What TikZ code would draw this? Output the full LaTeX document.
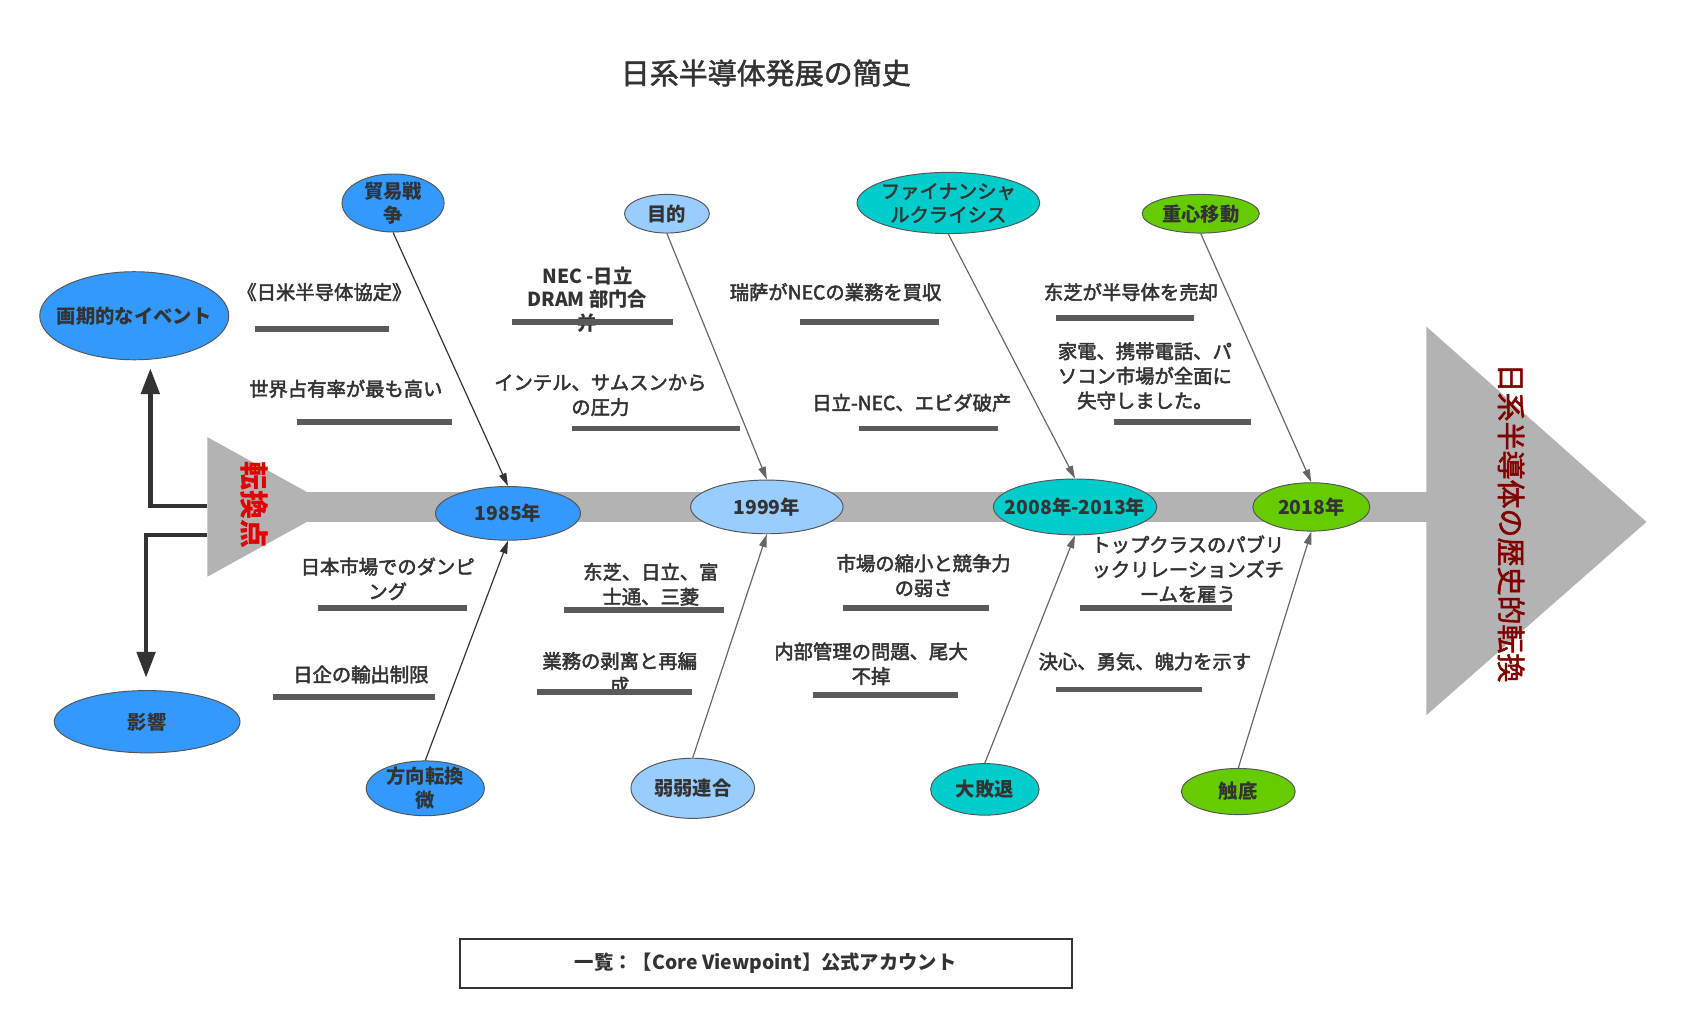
\documentclass[tikz,border=0pt]{standalone}
\usepackage{fontspec}
\setmainfont{Noto Sans CJK JP}
\newcommand\thk[1]{\special{pdf:literal direct 2 Tr 0.45 w}#1\special{pdf:literal direct 0 Tr}}
\usetikzlibrary{arrows.meta,shapes.geometric}
\definecolor{txt}{HTML}{333333}
\definecolor{evline}{HTML}{555555}
\definecolor{ulc}{HTML}{5A5A5A}
\definecolor{barc}{HTML}{B3B3B3}
\definecolor{blueA}{HTML}{3399FF}
\definecolor{blueL}{HTML}{99CCFF}
\definecolor{tealc}{HTML}{00CCCC}
\definecolor{greenc}{HTML}{66CC00}
\definecolor{maroonc}{HTML}{800000}
\definecolor{redc}{HTML}{E00000}
\definecolor{conng}{HTML}{666666}
\begin{document}
\begin{tikzpicture}[x=1pt,y=-1pt,
 ev/.style={ellipse, draw=evline, line width=0.9pt, inner sep=0pt},
 evt/.style={font=\bfseries\fontsize{18}{22}\selectfont, text=txt, align=center, inner sep=0pt},
 lbl/.style={font=\fontsize{18}{23}\selectfont, text=txt, align=center, inner sep=0pt},
 uline/.style={draw=ulc, line width=5.5pt},
 conn/.style={draw=conng, line width=1.1pt, -{Triangle[length=12pt,width=7pt]}},
 connd/.style={conn, draw=txt},
 bigconn/.style={draw=txt, line width=4pt, -{Triangle[length=24pt,width=17pt]}},
]
\useasboundingbox (0,0) rectangle (1568,955);
\fill[white] (0,0) rectangle (1568,955);

% title
\node[font=\fontsize{27}{30}\selectfont, text=txt] (title) at (713,68) {\thk{日系半導体発展の簡史}};

% spine
\fill[barc] (285,458) rectangle (1332,486);
\fill[barc] (193,407) -- (311,472) -- (193,537) -- cycle;
\fill[barc] (1328,304) -- (1533,486) -- (1328,666) -- cycle;
\node[rotate=-90, text=redc, font=\bfseries\fontsize{27}{30}\selectfont] (turnpt) at (237,470) {転換点};
\node[rotate=-90, text=maroonc, font=\fontsize{27}{30}\selectfont] (histturn) at (1407,487) {\thk{日系半導体の歴史的転換}};

% left nodes
\node[ev, fill=blueA, minimum width=176, minimum height=82, label={[evt]center:画期的なイベント}] (event) at (125,294) {};
\node[ev, fill=blueA, minimum width=173, minimum height=58, label={[evt]center:影響}] (impact) at (137,672) {};
\coordinate (tA) at (193,471);
\coordinate (tB) at (193,498);
\coordinate (evTip) at (140,343);
\coordinate (imTip) at (136,631);
\draw[bigconn] (tA) -| (evTip);
\draw[bigconn] (tB) -| (imTip);

% 1985
\node[ev, fill=blueA, minimum width=135, minimum height=50, label={[evt]center:1985年}] (y1985) at (473,478) {};
\node[ev, fill=blueA, minimum width=95, minimum height=54, label={[evt]center:{貿易戦\\争}}] (trade) at (366,189) {};
\node[ev, fill=blueA, minimum width=110, minimum height=51, label={[evt]center:{方向転換\\微}}] (turn) at (396,734) {};
\draw[connd] (trade.south) -- (y1985.north);
\draw[connd] (turn.north) -- (y1985.south);

% 1999
\node[ev, fill=blueL, minimum width=142, minimum height=50, label={[evt]center:1999年}] (y1999) at (714,472) {};
\node[ev, fill=blueL, minimum width=79, minimum height=36, label={[evt]center:目的}] (purpose) at (621,199) {};
\node[ev, fill=blueL, minimum width=115, minimum height=56, label={[evt]center:弱弱連合}] (weak) at (645,734) {};
\draw[conn] (purpose.south) -- (y1999.north);
\draw[conn] (weak.north) -- (y1999.south);

% 2008-2013
\node[ev, fill=tealc, minimum width=152, minimum height=52, label={[evt]center:2008年-2013年}] (y2008) at (1001,472) {};
\node[ev, fill=tealc, minimum width=170, minimum height=57, label={[evt,font=\fontsize{18}{22}\selectfont]center:{\thk{ファイナンシャ}\\\thk{ルクライシス}}}] (crisis) at (883,189) {};
\node[ev, fill=tealc, minimum width=101, minimum height=48, label={[evt]center:大敗退}] (defeat) at (917,735) {};
\draw[conn] (crisis.south) -- (y2008.north);
\draw[conn] (defeat.north) -- (y2008.south);

% 2018
\node[ev, fill=greenc, minimum width=109, minimum height=45, label={[evt]center:2018年}] (y2018) at (1221,472) {};
\node[ev, fill=greenc, minimum width=109, minimum height=36, label={[evt]center:重心移動}] (shift) at (1118,199) {};
\node[ev, fill=greenc, minimum width=106, minimum height=43, label={[evt]center:触底}] (bottom) at (1153,737) {};
\draw[conn] (shift.south) -- (y2018.north);
\draw[conn] (bottom.north) -- (y2018.south);

% labels 1985
\node[lbl] (l1) at (302,272) {\thk{《日米半导体協定》}};
\draw[uline] (237,306) -- (362,306);
\node[lbl] (l2) at (322,362) {\thk{世界占有率が最も高い}};
\draw[uline] (277,393) -- (421,393);
\node[lbl] (l3) at (361,539) {\thk{日本市場でのダンピ}\\\thk{ング}};
\draw[uline] (296,566) -- (435,566);
\node[lbl] (l4) at (336,628) {\thk{日企の輸出制限}};
\draw[uline] (254,649) -- (405,649);

% labels 1999
\node[evt] (l5) at (547,279) {NEC -日立\\DRAM 部门合\\并};
\draw[uline] (477,300) -- (627,300);
\node[lbl] (l6) at (559,368) {\thk{インテル、サムスンから}\\\thk{の圧力}};
\draw[uline] (533,399) -- (689,399);
\node[lbl] (l7) at (606,544) {\thk{东芝、日立、富}\\\thk{士通、三菱}};
\draw[uline] (525,568) -- (674,568);
\node[lbl] (l8) at (577,627) {\thk{業務の剥离と再編}\\\thk{成}};
\draw[uline] (500,644) -- (644,644);

% labels 2008
\node[lbl] (l9) at (778,272) {\thk{瑞萨がNECの業務を買収}};
\draw[uline] (745,300) -- (874,300);
\node[lbl] (l10) at (849,375) {\thk{日立-NEC、エビダ破产}};
\draw[uline] (800,399) -- (929,399);
\node[lbl] (l11) at (860,536) {\thk{市場の縮小と競争力}\\\thk{の弱さ}};
\draw[uline] (785,566) -- (921,566);
\node[lbl] (l12) at (811,618) {\thk{内部管理の問題、尾大}\\\thk{不掉}};
\draw[uline] (757,647) -- (892,647);

% labels 2018
\node[lbl] (l13) at (1053,272) {\thk{东芝が半导体を売却}};
\draw[uline] (983,296) -- (1112,296);
\node[lbl] (l14) at (1066,350) {\thk{家電、携帯電話、パ}\\\thk{ソコン市場が全面に}\\\thk{失守しました。}};
\draw[uline] (1037,393) -- (1165,393);
\node[lbl] (l15) at (1106,530) {\thk{トップクラスのパブリ}\\\thk{ックリレーションズチ}\\\thk{ームを雇う}};
\draw[uline] (1006,566) -- (1147,566);
\node[lbl] (l16) at (1066,616) {\thk{決心、勇気、魄力を示す}};
\draw[uline] (983,642) -- (1119,642);

% account box
\node[draw=txt, line width=1.8pt, minimum width=570, minimum height=46, inner sep=0pt, font=\bfseries\fontsize{18}{22}\selectfont, text=txt] (acct) at (713,897) {一覧：【Core Viewpoint】公式アカウント};
\end{tikzpicture}
\end{document}
